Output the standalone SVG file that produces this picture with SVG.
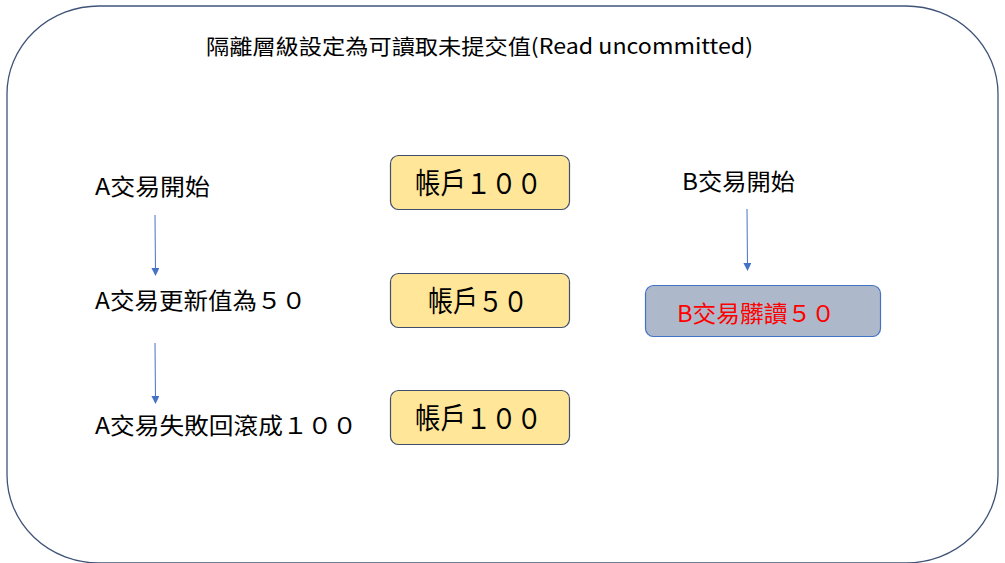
<svg xmlns="http://www.w3.org/2000/svg" width="1005" height="563" viewBox="0 0 1005 563">
<style>
  .t { font-family: "Noto Sans CJK TC", "Noto Sans", sans-serif; fill: #000; }
  .acct { fill: #FFE699; stroke: #3F4F6B; stroke-width: 1.2; }
  .dirty { fill: #ADB9CA; stroke: #4472C4; stroke-width: 1.2; }
  .conn { stroke: #4472C4; stroke-width: 1; fill: none; }
</style>
<defs>
  <marker id="ah" markerWidth="8" markerHeight="8" refX="7" refY="4" orient="auto" markerUnits="userSpaceOnUse">
    <path d="M0,0 L8,4 L0,8 Z" fill="#4472C4"/>
  </marker>
</defs>
<rect width="1005" height="563" fill="#fff"/>
<g id="frame">
  <rect x="7" y="6" width="991" height="557" rx="92" ry="88" fill="none" stroke="#3F5378" stroke-width="1.3"/>
  <text class="t" x="206" y="54" font-size="21" textLength="547" lengthAdjust="spacingAndGlyphs">隔離層級設定為可讀取未提交值(Read uncommitted)</text>
</g>
<g id="a-start"><text class="t" x="95" y="195" font-size="23" textLength="115" lengthAdjust="spacingAndGlyphs">A交易開始</text></g>
<g id="a-update"><text class="t" x="95" y="309" font-size="23" textLength="211" lengthAdjust="spacingAndGlyphs">A交易更新值為５０</text></g>
<g id="a-rollback"><text class="t" x="95" y="434" font-size="23" textLength="262" lengthAdjust="spacingAndGlyphs">A交易失敗回滾成１００</text></g>
<g id="b-start"><text class="t" x="682" y="190" font-size="23" textLength="113" lengthAdjust="spacingAndGlyphs">B交易開始</text></g>
<g id="acct1">
  <rect class="acct" x="390.5" y="155.5" width="179" height="54" rx="8"/>
  <text class="t" x="415" y="194" font-size="29" textLength="127" lengthAdjust="spacingAndGlyphs">帳戶１００</text>
</g>
<g id="acct2">
  <rect class="acct" x="390.5" y="273.5" width="179" height="54" rx="8"/>
  <text class="t" x="428" y="312" font-size="29" textLength="100" lengthAdjust="spacingAndGlyphs">帳戶５０</text>
</g>
<g id="acct3">
  <rect class="acct" x="390.5" y="390.5" width="179" height="54" rx="8"/>
  <text class="t" x="415" y="429" font-size="29" textLength="127" lengthAdjust="spacingAndGlyphs">帳戶１００</text>
</g>
<g id="b-dirty">
  <rect class="dirty" x="645.5" y="285.5" width="235" height="51" rx="8"/>
  <text class="t" x="677" y="322" font-size="23" style="fill:#FF0000" textLength="158" lengthAdjust="spacingAndGlyphs">B交易髒讀５０</text>
</g>
<g id="connectors">
  <line class="conn" x1="155" y1="215" x2="155.5" y2="275" marker-end="url(#ah)"/>
  <line class="conn" x1="155" y1="343" x2="155.5" y2="403" marker-end="url(#ah)"/>
  <line class="conn" x1="747" y1="209" x2="747.5" y2="270" marker-end="url(#ah)"/>
</g>
</svg>
